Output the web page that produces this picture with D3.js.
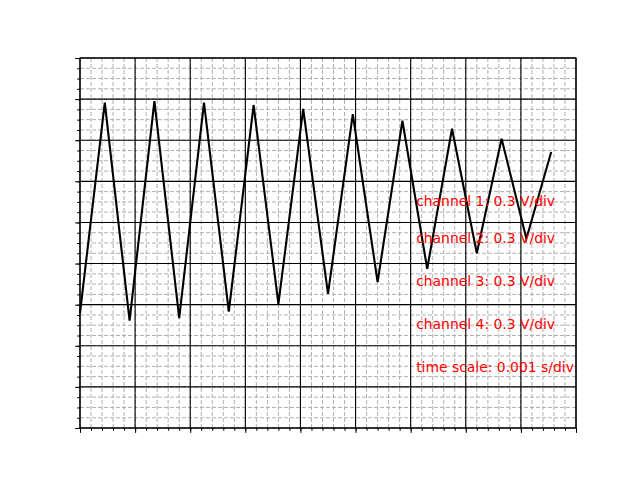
<!DOCTYPE html>
<html>
<head>
<meta charset="utf-8">
<script src="https://cdn.jsdelivr.net/npm/d3@7"></script>
<style>
  html, body { margin: 0; padding: 0; background: #fff; }
  svg { display: block; }
</style>
</head>
<body>
<script>
// ---- data ----
const timeStep = 0.00045; // seconds between successive vertices
const voltages = [-0.511, 1.024, -0.567, 1.036, -0.549, 1.024, -0.501, 1.007, -0.445, 0.978,
                  -0.372, 0.941, -0.285, 0.892, -0.188, 0.834, -0.075, 0.761, 0.031, 0.664];
const times = voltages.map((v, i) => +(i * timeStep).toFixed(5));
const labels = ["channel 1: 0.3 V/div", "channel 2: 0.3 V/div", "channel 3: 0.3 V/div",
                "channel 4: 0.3 V/div", "time scale: 0.001 s/div"];
const labelVolts = [0.27, -0.002, -0.314, -0.625, -0.939]; // baseline positions in V
const labelTime = 0.0061;
const xMajor = d3.range(0, 10).map(i => i * 0.001);
const yMajor = d3.range(0, 10).map(i => -1.35 + i * 0.3);
const xMinor = d3.range(0, 46).map(i => i * 0.0002);
const yMinor = d3.range(0, 37).map(i => -1.35 + i * 0.075);

// ---- layout ----
const W = 640, H = 480;
const L = 80, R = 576, T = 58, B = 428;
const svg = d3.select("body").append("svg").attr("width", W).attr("height", H);
const x = d3.scaleLinear().domain([0, 0.009]).range([L, R]);
const y = d3.scaleLinear().domain([-1.35, 1.35]).range([B, T]);

// minor grid
const g = svg.append("g");
g.selectAll("line.vminor").data(xMinor).join("line")
  .attr("x1", d => x(d)).attr("x2", d => x(d)).attr("y1", T).attr("y2", B)
  .attr("stroke", "#b0b0b0").attr("stroke-width", 1).attr("stroke-dasharray", "4,2");
g.selectAll("line.hminor").data(yMinor).join("line")
  .attr("y1", d => y(d)).attr("y2", d => y(d)).attr("x1", L).attr("x2", R)
  .attr("stroke", "#b0b0b0").attr("stroke-width", 1).attr("stroke-dasharray", "4,2");
// major grid
g.selectAll("line.vmajor").data(xMajor).join("line")
  .attr("x1", d => x(d)).attr("x2", d => x(d)).attr("y1", T).attr("y2", B)
  .attr("stroke", "#000").attr("stroke-width", 1.1);
g.selectAll("line.hmajor").data(yMajor).join("line")
  .attr("y1", d => y(d)).attr("y2", d => y(d)).attr("x1", L).attr("x2", R)
  .attr("stroke", "#000").attr("stroke-width", 1.1);

// axes (ticks only, no labels)
const xAxisMinor = d3.axisBottom(x).tickValues(xMinor).tickSize(2.8).tickFormat("");
const xAxisMajor = d3.axisBottom(x).tickValues(xMajor).tickSize(4.9).tickFormat("");
const yAxisMinor = d3.axisLeft(y).tickValues(yMinor).tickSize(2.8).tickFormat("");
const yAxisMajor = d3.axisLeft(y).tickValues(yMajor).tickSize(4.9).tickFormat("");
[xAxisMinor, xAxisMajor].forEach(a => {
  const ga = svg.append("g").attr("transform", `translate(0,${B})`).call(a);
  ga.select(".domain").remove();
  ga.selectAll("line").attr("stroke", "#000").attr("stroke-width", 1);
});
[yAxisMinor, yAxisMajor].forEach(a => {
  const ga = svg.append("g").attr("transform", `translate(${L},0)`).call(a);
  ga.select(".domain").remove();
  ga.selectAll("line").attr("stroke", "#000").attr("stroke-width", 1);
});
// frame
svg.append("rect").attr("x", L).attr("y", T).attr("width", R - L).attr("height", B - T)
  .attr("fill", "none").attr("stroke", "#000").attr("stroke-width", 1.1);

// signal
const line = d3.line().x((d, i) => x(times[i])).y(d => y(d));
svg.append("path").datum(voltages).attr("d", line)
  .attr("fill", "none").attr("stroke", "#000").attr("stroke-width", 2.1)
  .attr("stroke-linejoin", "miter");

// labels
svg.selectAll("text.lbl").data(labels).join("text")
  .attr("x", x(labelTime)).attr("y", (d, i) => y(labelVolts[i]))
  .attr("fill", "red").attr("font-family", "DejaVu Sans")
  .attr("font-size", "13.9px").text(d => d);
</script>
</body>
</html>
